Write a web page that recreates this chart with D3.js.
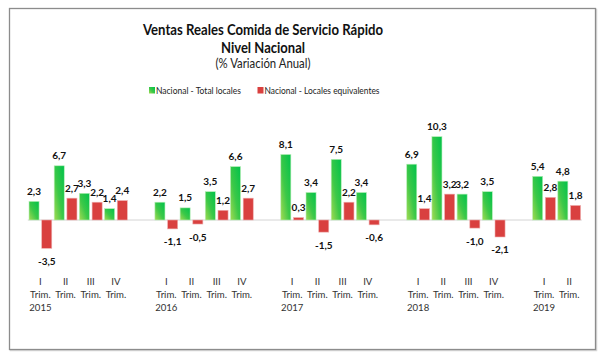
<!DOCTYPE html>
<html><head><meta charset="utf-8">
<script src="https://cdn.jsdelivr.net/npm/d3@7"></script>
<style>
html,body{margin:0;padding:0;background:#fff;}
svg{display:block;font-family:Lato, "Open Sans", sans-serif;}
</style></head>
<body>
<svg id="c" width="603" height="362"></svg>
<script>
const quarters = ["I","II","III","IV","","I","II","III","IV","","I","II","III","IV","","I","II","III","IV","","I","II"];
const years    = ["2015","","","","","2016","","","","","2017","","","","","2018","","","","","2019",""];
const totalLocales = [2.3,6.7,3.3,1.4,null,2.2,1.5,3.5,6.6,null,8.1,3.4,7.5,3.4,null,6.9,10.3,3.2,3.5,null,5.4,4.8];
const localesEquiv = [-3.5,2.7,2.2,2.4,null,-1.1,-0.5,1.2,2.7,null,0.3,-1.5,2.2,-0.6,null,1.4,3.2,-1.0,-2.1,null,2.8,1.8];
const seriesNames = ["Nacional - Total locales","Nacional - Locales equivalentes"];
const titleLines = ["Ventas Reales Comida de Servicio Rápido","Nivel Nacional"];
const subtitle = "(% Variación Anual)";

const svg = d3.select("#c");
const defs = svg.append("defs");
const g1 = defs.append("linearGradient").attr("id","gGreen")
  .attr("x1","0").attr("y1","1").attr("x2","1").attr("y2","0");
g1.append("stop").attr("offset","0").attr("stop-color","#a2da52");
g1.append("stop").attr("offset","0.45").attr("stop-color","#3cc848");
g1.append("stop").attr("offset","1").attr("stop-color","#00c24a");

// chart frame
svg.append("rect").attr("x",10.5).attr("y",9.5).attr("width",586).attr("height",341)
  .attr("fill","none").attr("stroke","#d8d8d8").attr("stroke-width",1.5);
svg.append("rect").attr("x",9.5).attr("y",8.5).attr("width",586).attr("height",341)
  .attr("fill","#fff").attr("stroke","#8c8c8c").attr("stroke-width",1.3);

const cx = 263;
svg.append("text").attr("x",cx).attr("y",35).attr("text-anchor","middle")
  .attr("font-weight","bold").attr("font-size",15).attr("fill","#111")
  .attr("textLength",240).attr("lengthAdjust","spacingAndGlyphs").text(titleLines[0]);
svg.append("text").attr("x",cx).attr("y",52.5).attr("text-anchor","middle")
  .attr("font-weight","bold").attr("font-size",15).attr("fill","#111")
  .attr("textLength",84).attr("lengthAdjust","spacingAndGlyphs").text(titleLines[1]);
svg.append("text").attr("x",cx).attr("y",67.5).attr("text-anchor","middle")
  .attr("font-size",12.5).attr("fill","#222")
  .attr("textLength",95).attr("lengthAdjust","spacingAndGlyphs").text(subtitle);

// legend
const leg = [{x:149, fill:"url(#gGreen)", w:85},{x:257.5, fill:"#d9403f", w:115}];
leg.forEach((l,i)=>{
  svg.append("rect").attr("x",l.x).attr("y",87).attr("width",6).attr("height",6.5).attr("fill",l.fill);
  svg.append("text").attr("x",l.x+7).attr("y",94).attr("font-size",9.6).attr("fill","#222")
    .attr("textLength",l.w).attr("lengthAdjust","spacingAndGlyphs").text(seriesNames[i]);
});

const idx = d3.range(quarters.length);
const x = d3.scaleBand().domain(idx).range([27.8, 581.8]).paddingInner(0).paddingOuter(0);
const xs = d3.scaleBand().domain(["t","e"]).range([1.2, x.bandwidth()-1.2]).paddingInner(0.21);
const y = d3.scaleLinear().domain([-4, 11]).range([220 + 4*8.09, 220 - 11*8.09]);

// zero line
svg.append("line").attr("x1",x.range()[0]).attr("x2",x.range()[1])
  .attr("y1",y(0)).attr("y2",y(0)).attr("stroke","#d4d4d4").attr("stroke-width",1);

const rows = idx.map(i=>({i, t: totalLocales[i], e: localesEquiv[i]}));
const series = [
  {key:"t", vals: rows.filter(r=>r.t!=null).map(r=>({i:r.i, v:r.t})), fill:"url(#gGreen)", stroke:"#b8eeb8"},
  {key:"e", vals: rows.filter(r=>r.e!=null).map(r=>({i:r.i, v:r.e})), fill:"#d9403f", stroke:"#eeb0b0"}
];
const fmt = v => d3.format(".1f")(v).replace(".",",").replace("−","-");
series.forEach(s=>{
  svg.append("g").selectAll("rect").data(s.vals).join("rect")
    .attr("x", d=>x(d.i)+xs(s.key))
    .attr("width", xs.bandwidth())
    .attr("y", d=>y(Math.max(0,d.v)))
    .attr("height", d=>Math.abs(y(d.v)-y(0)))
    .attr("fill", s.fill).attr("stroke", s.stroke).attr("stroke-width",0.6);
});
series.forEach(s=>{
  svg.append("g").selectAll("text").data(s.vals).join("text")
    .attr("x", d=>x(d.i)+xs(s.key)+xs.bandwidth()/2)
    .attr("y", d=> d.v>=0 ? y(d.v)-6.5 : y(d.v)+16.5)
    .attr("text-anchor","middle").attr("font-weight","bold").attr("font-size",10)
    .attr("fill","#111").text(d=>fmt(d.v));
});

// category axis (low position)
const axis = d3.axisBottom(x).tickSize(0).tickFormat(()=>"");
const ag = svg.append("g").attr("transform","translate(0,272)").call(axis);
ag.select(".domain").remove();
ag.selectAll(".tick text").remove();
ag.selectAll(".tick").each(function(i){
  if(!quarters[i]) return;
  const t = d3.select(this).append("text").attr("text-anchor","middle")
    .attr("font-size",9.6).attr("fill","#333").attr("font-family","Lato, sans-serif");
  t.append("tspan").attr("x",0).attr("y",13).text(quarters[i]);
  t.append("tspan").attr("x",0).attr("y",26).text("Trim.");
  if(years[i]) t.append("tspan").attr("x",0).attr("y",39).text(years[i]);
});
</script>
</body></html>
